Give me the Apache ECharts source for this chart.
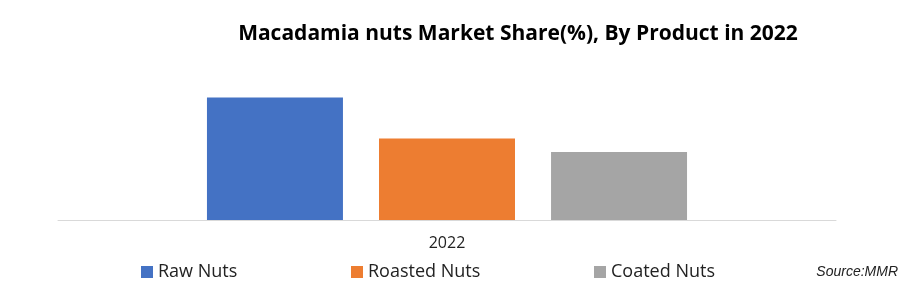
<!DOCTYPE html>
<html><head><meta charset="utf-8">
<script src="https://cdn.jsdelivr.net/npm/echarts@6/dist/echarts.min.js"></script>
<style>html,body{margin:0;padding:0;background:#fff}#c{width:905px;height:294px}</style>
</head><body><div id="c"></div>
<script>
const categories = ['2022'];
const seriesNames = ['Raw Nuts', 'Roasted Nuts', 'Coated Nuts'];
const rawNuts = [45];
const roastedNuts = [30];
const coatedNuts = [25];
const colors = ['#4472C4', '#ED7D31', '#A5A5A5'];
const font = 'Open Sans';
const chart = echarts.init(document.getElementById('c'));
const values = [rawNuts, roastedNuts, coatedNuts];
const legendLefts = [141, 351, 594];
chart.setOption({
  animation: false,
  backgroundColor: '#fff',
  title: {
    text: 'Macadamia nuts Market Share(%), By Product in 2022',
    left: 513, top: 19, textAlign: 'center',
    textStyle: {fontFamily: font, fontWeight: 'bold', fontSize: 21, color: '#000'}
  },
  graphic: [{
    type: 'text', right: 7, top: 265,
    style: {text: 'Source:MMR', font: 'italic 14px "Liberation Sans", Arial', fill: '#222'}
  }],
  legend: seriesNames.map((n, i) => ({
    data: [n], left: legendLefts[i], top: 263, icon: 'rect', padding: 0,
    itemWidth: 12, itemHeight: 12, itemGap: 0,
    textStyle: {fontFamily: font, fontSize: 18, color: '#222'}
  })),
  grid: {left: 58, right: 69, top: 84, bottom: 74},
  xAxis: {
    type: 'category', data: categories,
    axisLine: {lineStyle: {color: '#D9D9D9', width: 1}},
    axisTick: {show: false},
    axisLabel: {fontFamily: font, fontSize: 16, color: '#222', margin: 15}
  },
  yAxis: {type: 'value', min: 0, max: 50, show: false, splitLine: {show: false}},
  series: seriesNames.map((n, i) => ({
    name: n, type: 'bar', data: values[i], barWidth: 136, barGap: '26.5%',
    itemStyle: {color: colors[i]}
  }))
});
</script></body></html>
